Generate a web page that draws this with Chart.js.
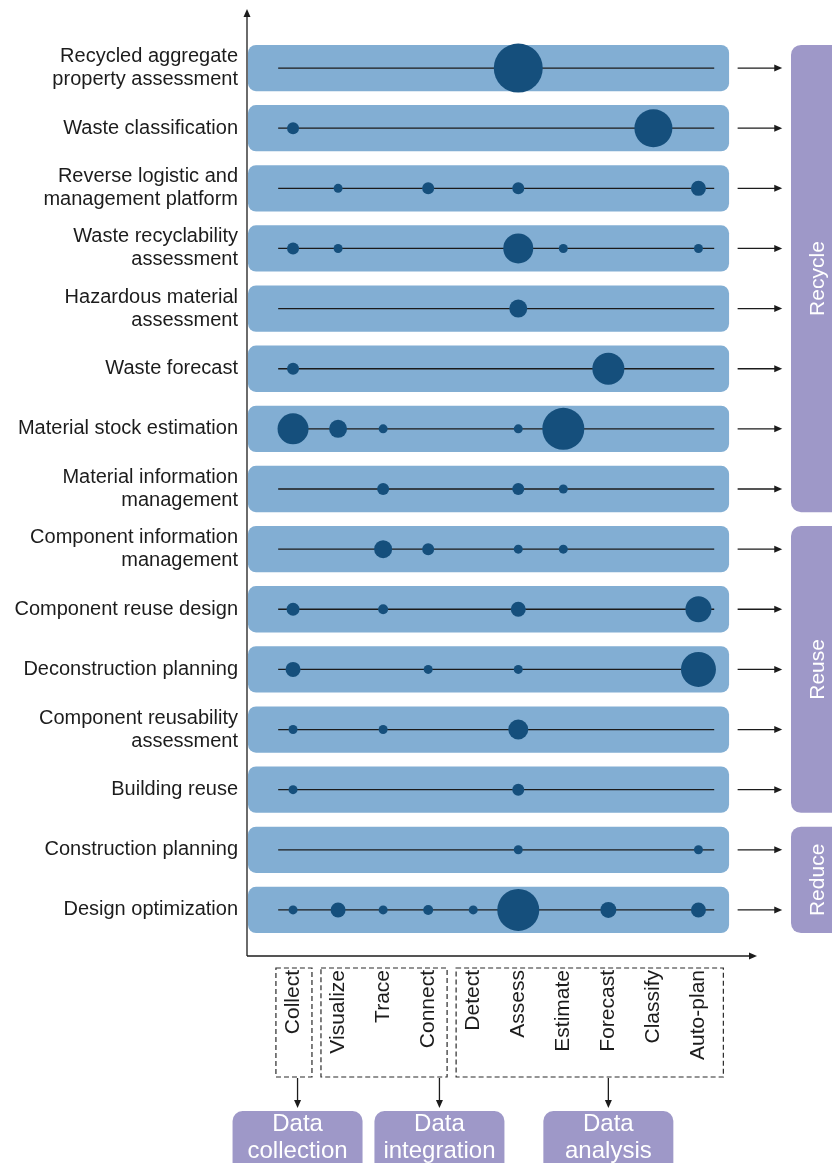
<!DOCTYPE html>
<html>
<head>
<meta charset="utf-8">
<script src="https://cdn.jsdelivr.net/npm/chart.js@4.4.0/dist/chart.umd.min.js"></script>
<style>
  html, body { margin: 0; padding: 0; background: #fff; }
  #wrap { width: 832px; height: 1163px; }
</style>
</head>
<body>
<div id="wrap"><canvas id="chart"></canvas></div>
<script>
var categories = [
  ['Recycled aggregate', 'property assessment'],
  'Waste classification',
  ['Reverse logistic and', 'management platform'],
  ['Waste recyclability', 'assessment'],
  ['Hazardous material', 'assessment'],
  'Waste forecast',
  'Material stock estimation',
  ['Material information', 'management'],
  ['Component information', 'management'],
  'Component reuse design',
  'Deconstruction planning',
  ['Component reusability', 'assessment'],
  'Building reuse',
  'Construction planning',
  'Design optimization'
];

var steps = ['Collect', 'Visualize', 'Trace', 'Connect', 'Detect', 'Assess', 'Estimate', 'Forecast', 'Classify', 'Auto-plan'];

// bubble size for each category (row) and step (column), 0 = nothing there
var radii = [
  [0,    0,   0,   0,   0,   24.5, 0,   0,  0,  0],
  [6,    0,   0,   0,   0,   0,    0,   0,  19, 0],
  [0,    4.5, 0,   6,   0,   6,    0,   0,  0,  7.5],
  [6,    4.5, 0,   0,   0,   15,   4.5, 0,  0,  4.5],
  [0,    0,   0,   0,   0,   9,    0,   0,  0,  0],
  [6,    0,   0,   0,   0,   0,    0,   16, 0,  0],
  [15.5, 9,   4.5, 0,   0,   4.5,  21,  0,  0,  0],
  [0,    0,   6,   0,   0,   6,    4.5, 0,  0,  0],
  [0,    0,   9,   6,   0,   4.5,  4.5, 0,  0,  0],
  [6.5,  0,   5,   0,   0,   7.5,  0,   0,  0,  13],
  [7.5,  0,   0,   4.5, 0,   4.5,  0,   0,  0,  17.5],
  [4.5,  0,   4.5, 0,   0,   10,   0,   0,  0,  0],
  [4.5,  0,   0,   0,   0,   6,    0,   0,  0,  0],
  [0,    0,   0,   0,   0,   4.5,  0,   0,  0,  4.5],
  [4.5,  7.5, 4.5, 5,   4.5, 21,   0,   8,  0,  7.5]
];

var phases = ['Recycle', 'Reuse', 'Reduce'];
var phaseFirst = [0, 8, 13];
var phaseLast = [7, 12, 14];

var stages = [['Data', 'collection'], ['Data', 'integration'], ['Data', 'analysis']];
var stageFirst = [0, 1, 4];
var stageLast = [0, 3, 9];

var FONT = '"Liberation Sans", Arial, sans-serif';
var BAND = '#82aed3';
var DOT = '#154f7c';
var PURPLE = '#9e98c8';
var INK = '#1c1c1c';

function rrect(ctx, x, y, w, h, r) {
  ctx.beginPath();
  ctx.moveTo(x + r, y);
  ctx.lineTo(x + w - r, y);
  ctx.arcTo(x + w, y, x + w, y + r, r);
  ctx.lineTo(x + w, y + h - r);
  ctx.arcTo(x + w, y + h, x + w - r, y + h, r);
  ctx.lineTo(x + r, y + h);
  ctx.arcTo(x, y + h, x, y + h - r, r);
  ctx.lineTo(x, y + r);
  ctx.arcTo(x, y, x + r, y, r);
  ctx.closePath();
}

function arrow(ctx, x1, y1, x2, y2) {
  var a = Math.atan2(y2 - y1, x2 - x1), c = Math.cos(a), s = Math.sin(a);
  ctx.beginPath();
  ctx.moveTo(x1, y1);
  ctx.lineTo(x2 - 6 * c, y2 - 6 * s);
  ctx.stroke();
  ctx.beginPath();
  ctx.moveTo(x2, y2);
  ctx.lineTo(x2 - 8 * c + 3.5 * s, y2 - 8 * s - 3.5 * c);
  ctx.lineTo(x2 - 8 * c - 3.5 * s, y2 - 8 * s + 3.5 * c);
  ctx.closePath();
  ctx.fill();
}

// light blue rounded band behind every row
var bands = {
  id: 'bands',
  beforeDatasetsDraw: function(chart) {
    var ctx = chart.ctx, x = chart.scales.x, y = chart.scales.y;
    var l = x.getPixelForValue(-1), r = x.getPixelForValue(9.68);
    ctx.save();
    ctx.fillStyle = BAND;
    categories.forEach(function(c, i) {
      var t = y.getPixelForValue(i - 0.385), b = y.getPixelForValue(i + 0.385);
      rrect(ctx, l, t, r - l, b - t, 8);
      ctx.fill();
    });
    ctx.restore();
  }
};

// axes with arrows, phase boxes on the right, stage boxes below
var decor = {
  id: 'decor',
  afterDraw: function(chart) {
    var ctx = chart.ctx, x = chart.scales.x, y = chart.scales.y, area = chart.chartArea;
    ctx.save();
    ctx.strokeStyle = INK;
    ctx.fillStyle = INK;
    ctx.lineWidth = 1.3;

    var ax = area.left - 1, ay = area.bottom + 16;
    arrow(ctx, ax, ay, ax, 9);
    arrow(ctx, ax, ay, area.right, ay);

    categories.forEach(function(c, i) {
      var py = y.getPixelForValue(i);
      arrow(ctx, x.getPixelForValue(9.87), py, x.getPixelForValue(10.86), py);
    });

    phases.forEach(function(p, k) {
      var t = y.getPixelForValue(phaseFirst[k] - 0.385), b = y.getPixelForValue(phaseLast[k] + 0.385);
      ctx.fillStyle = PURPLE;
      rrect(ctx, 791, t, 80, b - t, 10);
      ctx.fill();
      ctx.save();
      ctx.translate(818, (t + b) / 2);
      ctx.rotate(-Math.PI / 2);
      ctx.fillStyle = '#fff';
      ctx.font = '21px ' + FONT;
      ctx.textAlign = 'center';
      ctx.textBaseline = 'middle';
      ctx.fillText(p, 0, 0);
      ctx.restore();
    });

    var pointAt = [0.1, 3.25, 7];
    var boxTop = area.bottom + 28, boxBot = area.bottom + 137;
    stages.forEach(function(s, k) {
      var l = x.getPixelForValue(stageFirst[k] - 0.38), r = x.getPixelForValue(stageLast[k] + 0.42);
      if (k === stages.length - 1) r += 6;
      ctx.save();
      ctx.setLineDash([5, 3]);
      ctx.strokeStyle = '#2a2a2a';
      ctx.lineWidth = 1.2;
      ctx.strokeRect(l, boxTop, r - l, boxBot - boxTop);
      ctx.restore();

      var px = x.getPixelForValue(pointAt[k]);
      ctx.fillStyle = INK;
      arrow(ctx, px, boxBot + 1, px, boxBot + 31);

      ctx.fillStyle = PURPLE;
      rrect(ctx, px - 65, boxBot + 34, 130, 70, 10);
      ctx.fill();
      ctx.fillStyle = '#fff';
      ctx.font = '24px ' + FONT;
      ctx.textAlign = 'center';
      ctx.textBaseline = 'middle';
      ctx.fillText(s[0], px, boxBot + 47);
      ctx.fillText(s[1], px, boxBot + 74);
    });
    ctx.restore();
  }
};

var points = [];
radii.forEach(function(row, i) {
  row.forEach(function(r, j) {
    if (r > 0) points.push({ x: j, y: i, r: r });
  });
});

var rowLines = categories.map(function(c, i) {
  return {
    type: 'line',
    data: [{ x: -0.33, y: i }, { x: 9.35, y: i }],
    borderColor: '#1b1b1b',
    borderWidth: 1.3,
    pointRadius: 0,
    order: 2
  };
});

new Chart(document.getElementById('chart'), {
  type: 'bubble',
  data: {
    datasets: [{
      data: points,
      backgroundColor: DOT,
      borderWidth: 0,
      hoverBorderWidth: 0,
      order: 1
    }].concat(rowLines)
  },
  options: {
    responsive: true,
    maintainAspectRatio: false,
    animation: false,
    layout: { padding: { top: 38, right: 75, bottom: 0, left: 0 } },
    plugins: { legend: { display: false }, tooltip: { enabled: false } },
    scales: {
      x: {
        type: 'linear', min: -1, max: 10.3,
        grid: { display: false, drawTicks: false },
        border: { display: false },
        afterBuildTicks: function(s) { s.ticks = steps.map(function(n, i) { return { value: i }; }); },
        afterFit: function(s) { s.height = 223; s.paddingLeft = 0; s.paddingRight = 0; },
        ticks: {
          autoSkip: false, minRotation: 90, maxRotation: 90, padding: 30,
          color: INK, font: { family: FONT, size: 21 },
          callback: function(v) { return steps[Math.round(v)]; }
        }
      },
      y: {
        type: 'linear', reverse: true, min: -0.5, max: 14.5,
        grid: { display: false, drawTicks: false },
        border: { display: false },
        afterBuildTicks: function(s) { s.ticks = categories.map(function(n, i) { return { value: i }; }); },
        afterFit: function(s) { s.width = 248; s.paddingTop = 0; s.paddingBottom = 0; },
        ticks: {
          autoSkip: false, padding: 10,
          color: INK, font: { family: FONT, size: 20, lineHeight: 1.15 },
          callback: function(v) { return categories[Math.round(v)]; }
        }
      }
    }
  },
  plugins: [bands, decor]
});
</script>
</body>
</html>
